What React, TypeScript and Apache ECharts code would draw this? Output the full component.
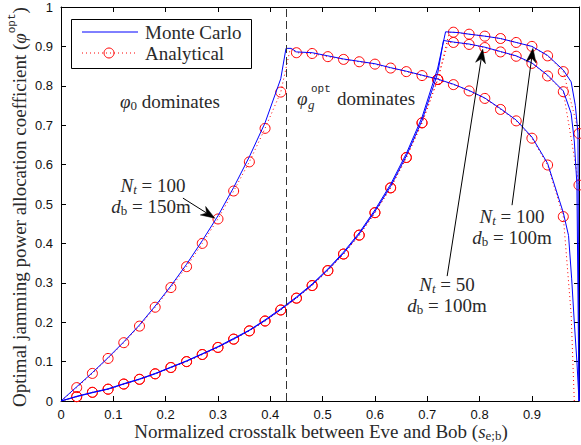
import React, { useEffect, useRef } from "react";
import * as echarts from "echarts";

// x positions of the analytical markers
const markerX = [0.03, 0.06, 0.09, 0.12, 0.15, 0.18, 0.21, 0.24, 0.27, 0.3, 0.33, 0.36, 0.39, 0.42, 0.45, 0.48, 0.51, 0.54, 0.57, 0.6, 0.63, 0.66, 0.69, 0.72, 0.75, 0.78, 0.81, 0.84, 0.87, 0.9, 0.93, 0.96, 0.99];

// Analytical values (markers)
const anaNt100db150 = [0.034, 0.07, 0.108, 0.148, 0.19, 0.238, 0.288, 0.341, 0.4, 0.462, 0.533, 0.607, 0.692, 0.784, 0.884, 0.882, 0.874, 0.867, 0.861, 0.855, 0.845, 0.836, 0.826, 0.816, 0.803, 0.787, 0.768, 0.74, 0.711, 0.667, 0.599, 0.468];
const anaNt100db150Extra = [[0, 0], [0.438, 0.893], [0.975, 0.22], [0.981, 0]];
const anaNt100db100 = [0.011, 0.022, 0.03, 0.043, 0.055, 0.069, 0.085, 0.1, 0.118, 0.136, 0.157, 0.178, 0.203, 0.231, 0.261, 0.293, 0.331, 0.373, 0.421, 0.478, 0.541, 0.618, 0.706, 0.816, 0.936, 0.931, 0.926, 0.92, 0.91, 0.9, 0.876, 0.836, 0.679];
const anaNt100db100Extra = [[0, 0], [0.742, 0.935]];
const anaNt50db100 = [0.011, 0.022, 0.03, 0.043, 0.055, 0.069, 0.085, 0.1, 0.118, 0.136, 0.157, 0.178, 0.203, 0.231, 0.261, 0.293, 0.331, 0.373, 0.421, 0.478, 0.541, 0.618, 0.706, 0.816, 0.91, 0.905, 0.897, 0.886, 0.875, 0.857, 0.825, 0.785, 0.548];
const anaNt50db100Extra = [[0, 0], [0.74, 0.91]];

// Monte Carlo curves [x, y]
const mcNt100db150 = [[0, 0], [0.03, 0.036], [0.06, 0.072], [0.09, 0.11], [0.12, 0.15], [0.15, 0.193], [0.18, 0.241], [0.21, 0.292], [0.24, 0.347], [0.27, 0.407], [0.3, 0.47], [0.33, 0.542], [0.36, 0.62], [0.39, 0.706], [0.42, 0.818], [0.43, 0.895], [0.44, 0.895], [0.45, 0.886], [0.48, 0.884], [0.51, 0.876], [0.54, 0.868], [0.57, 0.862], [0.6, 0.856], [0.63, 0.846], [0.66, 0.837], [0.69, 0.827], [0.72, 0.817], [0.75, 0.804], [0.78, 0.788], [0.81, 0.769], [0.84, 0.742], [0.87, 0.713], [0.9, 0.67], [0.93, 0.603], [0.96, 0.478], [0.97, 0.42], [0.976, 0.31], [0.981, 0.2], [0.986, 0.1], [0.99, 0]];
const mcNt100db100 = [[0, 0], [0.03, 0.012], [0.06, 0.022], [0.09, 0.031], [0.12, 0.044], [0.15, 0.056], [0.18, 0.07], [0.21, 0.086], [0.24, 0.102], [0.27, 0.12], [0.3, 0.138], [0.33, 0.159], [0.36, 0.18], [0.39, 0.206], [0.42, 0.234], [0.45, 0.264], [0.48, 0.297], [0.51, 0.335], [0.54, 0.378], [0.57, 0.427], [0.6, 0.485], [0.63, 0.55], [0.66, 0.628], [0.69, 0.72], [0.72, 0.845], [0.735, 0.937], [0.76, 0.935], [0.78, 0.931], [0.81, 0.926], [0.84, 0.92], [0.87, 0.91], [0.9, 0.9], [0.93, 0.877], [0.96, 0.84], [0.975, 0.81], [0.983, 0.75], [0.988, 0.68], [0.99, 0]];
const mcNt50db100 = [[0, 0], [0.03, 0.011], [0.06, 0.021], [0.09, 0.03], [0.12, 0.043], [0.15, 0.055], [0.18, 0.069], [0.21, 0.085], [0.24, 0.101], [0.27, 0.119], [0.3, 0.137], [0.33, 0.157], [0.36, 0.179], [0.39, 0.204], [0.42, 0.232], [0.45, 0.262], [0.48, 0.295], [0.51, 0.333], [0.54, 0.375], [0.57, 0.424], [0.6, 0.481], [0.63, 0.545], [0.66, 0.622], [0.69, 0.712], [0.72, 0.832], [0.731, 0.915], [0.75, 0.911], [0.78, 0.906], [0.81, 0.898], [0.84, 0.887], [0.87, 0.876], [0.9, 0.858], [0.93, 0.827], [0.96, 0.787], [0.975, 0.73], [0.981, 0.66], [0.986, 0.55], [0.99, 0]];

const boundaryX = 0.43;
const xMax = 0.99;

// annotation arrows (data coords): tail -> tip
const arrows = [
  { from: [0.233, 0.515], to: [0.294, 0.464] },
  { from: [0.738, 0.317], to: [0.806, 0.893] },
  { from: [0.862, 0.497], to: [0.902, 0.895] },
];

const SERIF = "'Liberation Serif', 'Times New Roman', serif";
const SANS = "'Liberation Sans', Arial, sans-serif";
const MONO = "'Liberation Mono', 'DejaVu Sans Mono', monospace";
const TXT = "#2a2a2a";
const FS = 19;
const LH = 16;

const rich = {
  n: { fontFamily: SERIF, fontSize: FS, lineHeight: LH, fill: TXT },
  i: { fontFamily: SERIF, fontStyle: "italic", fontSize: FS, lineHeight: LH, fill: TXT },
  sub: { fontFamily: SERIF, fontSize: 13, lineHeight: LH, padding: [8, 0, 0, 0], fill: TXT },
  subi: { fontFamily: SERIF, fontStyle: "italic", fontSize: 13, lineHeight: LH, padding: [8, 0, 0, 0], fill: TXT },
  sup: { fontFamily: MONO, fontSize: 11, lineHeight: LH, padding: [0, 0, 14, 0], fill: TXT },
};

function buildAna(vals: number[], extra: number[][]) {
  const pts: any[] = vals.map((v, k) => ({ value: [markerX[k], v] }));
  extra.forEach((p) => pts.push({ value: p, symbol: "none" }));
  pts.sort((a, b) => a.value[0] - b.value[0]);
  return pts;
}

function rtext(x: number, y: number, text: string, align = "center", extra: any = {}) {
  return {
    type: "text",
    x,
    y,
    z: 50,
    ...extra,
    style: { text, rich, align, verticalAlign: "middle", fontFamily: SERIF, fontSize: FS, lineHeight: LH, fill: TXT },
  };
}

export default function App() {
  const ref = useRef<HTMLDivElement>(null);
  useEffect(() => {
    const chart = echarts.init(ref.current!, null, { renderer: "svg" });
    const anaStyle = {
      type: "line",
      showAllSymbol: true,
      symbol: "circle",
      symbolSize: 10,
      lineStyle: { color: "#ff0000", width: 1, type: [1, 3] },
      itemStyle: { color: "rgba(0,0,0,0)", borderColor: "#ff0000", borderWidth: 1 },
      z: 2,
    };
    const mcStyle = {
      type: "line",
      symbol: "none",
      lineStyle: { color: "#0000ff", width: 1 },
      z: 3,
    };
    const axisCommon = {
      axisLine: { show: true, onZero: false, lineStyle: { color: "#000", width: 1 } },
      axisTick: { show: true, inside: true, length: 5, lineStyle: { color: "#000" } },
      splitLine: { show: false },
    };
    chart.setOption({
      animation: false,
      backgroundColor: "#fff",
      grid: { left: 61, right: 2, top: 7, bottom: 44 },
      xAxis: [
        {
          type: "value", min: 0, max: xMax, interval: 0.1, position: "bottom", ...axisCommon,
          axisLabel: { showMaxLabel: false, margin: 7, fontFamily: SANS, fontSize: 13, color: "#111" },
        },
        {
          type: "value", min: 0, max: xMax, interval: 0.1, position: "top", ...axisCommon,
          axisLabel: { show: false },
        },
      ],
      yAxis: [
        {
          type: "value", min: 0, max: 1, interval: 0.1, position: "left", ...axisCommon,
          axisLabel: { margin: 8, fontFamily: SANS, fontSize: 13, color: "#111" },
        },
        {
          type: "value", min: 0, max: 1, interval: 0.1, position: "right", ...axisCommon,
          axisLabel: { show: false },
        },
      ],
      series: [
        { ...anaStyle, name: "Analytical A", data: buildAna(anaNt100db150, anaNt100db150Extra) },
        { ...anaStyle, name: "Analytical B", data: buildAna(anaNt50db100, anaNt50db100Extra) },
        { ...anaStyle, name: "Analytical C", data: buildAna(anaNt100db100, anaNt100db100Extra) },
        {
          ...mcStyle, name: "Monte Carlo A", data: mcNt100db150,
          markLine: {
            silent: true, symbol: "none", label: { show: false },
            lineStyle: { color: "#333", width: 1, type: [8, 4] },
            data: [{ xAxis: boundaryX }],
          },
        },
        { ...mcStyle, name: "Monte Carlo B", data: mcNt50db100 },
        { ...mcStyle, name: "Monte Carlo C", data: mcNt100db100 },
      ],
    });

    const toPx = (p: number[]) => chart.convertToPixel({ gridIndex: 0 }, p) as number[];
    const arrowEls: any[] = [];
    arrows.forEach((a) => {
      const [x1, y1] = toPx(a.from);
      const [x2, y2] = toPx(a.to);
      const dx = x2 - x1, dy = y2 - y1;
      const len = Math.hypot(dx, dy);
      const ux = dx / len, uy = dy / len, nx = -uy, ny = ux;
      const L = 14, W = 5;
      const bx = x2 - ux * L, by = y2 - uy * L;
      const cx = x2 - ux * L * 0.7, cy = y2 - uy * L * 0.7;
      arrowEls.push({ type: "line", z: 60, shape: { x1, y1, x2: cx, y2: cy }, style: { stroke: "#000", lineWidth: 1 } });
      arrowEls.push({
        type: "polygon", z: 60,
        shape: { points: [[x2, y2], [bx + nx * W, by + ny * W], [cx, cy], [bx - nx * W, by - ny * W]] },
        style: { fill: "#000", stroke: "#000", lineWidth: 0.5 },
      });
    });

    const graphic: any[] = [
      // legend
      { type: "rect", z: 100, shape: { x: 71.5, y: 19.5, width: 180, height: 49 }, style: { fill: "#fff", stroke: "#000", lineWidth: 1 } },
      { type: "line", z: 101, shape: { x1: 82, y1: 32, x2: 138, y2: 32 }, style: { stroke: "#0000ff", lineWidth: 1 } },
      { type: "line", z: 101, shape: { x1: 82, y1: 53, x2: 138, y2: 53 }, style: { stroke: "#ff0000", lineWidth: 1, lineDash: [1, 3] } },
      { type: "circle", z: 101, shape: { cx: 109, cy: 53, r: 5 }, style: { fill: "none", stroke: "#ff0000", lineWidth: 1 } },
      { type: "text", z: 101, x: 145, y: 32, style: { text: "Monte Carlo", fontFamily: SERIF, fontSize: FS, fill: TXT, verticalAlign: "middle" } },
      { type: "text", z: 101, x: 145, y: 53, style: { text: "Analytical", fontFamily: SERIF, fontSize: FS, fill: TXT, verticalAlign: "middle" } },
      // region labels
      rtext(120, 101, "{i|φ}{sub|0}{n| dominates}", "left"),
      { type: "text", z: 50, x: 297, y: 98, style: { text: "φ", fontFamily: SERIF, fontStyle: "italic", fontSize: FS, fill: TXT, verticalAlign: "middle" } },
      { type: "text", z: 50, x: 308, y: 104, style: { text: "g", fontFamily: SERIF, fontStyle: "italic", fontSize: 13, fill: TXT, verticalAlign: "middle" } },
      { type: "text", z: 50, x: 311, y: 89, style: { text: "opt", fontFamily: MONO, fontSize: 11, fill: TXT, verticalAlign: "middle" } },
      { type: "text", z: 50, x: 337, y: 98, style: { text: "dominates", fontFamily: SERIF, fontSize: FS, fill: TXT, verticalAlign: "middle" } },
      // curve annotations
      rtext(153, 185, "{i|N}{subi|t}{n| = 100}"),
      rtext(151, 206, "{i|d}{sub|b}{n| = 150m}"),
      rtext(512, 216, "{i|N}{subi|t}{n| = 100}"),
      rtext(512, 237, "{i|d}{sub|b}{n| = 100m}"),
      rtext(447, 284, "{i|N}{subi|t}{n| = 50}"),
      rtext(447, 305, "{i|d}{sub|b}{n| = 100m}"),
      // axis titles
      rtext(321, 431, "{n|Normalized crosstalk between Eve and Bob (}{i|s}{sub|e;b}{n|)}"),
      rtext(19, 207, "{n|Optimal jamming power allocation coefficient (}{i|φ}{sup|opt}{n|)}", "center", { rotation: Math.PI / 2 }),
      ...arrowEls,
    ];
    chart.setOption({ graphic });
    return () => chart.dispose();
  }, []);
  return <div ref={ref} style={{ position: "fixed", left: 0, top: 0, width: 581, height: 445 }} />;
}
